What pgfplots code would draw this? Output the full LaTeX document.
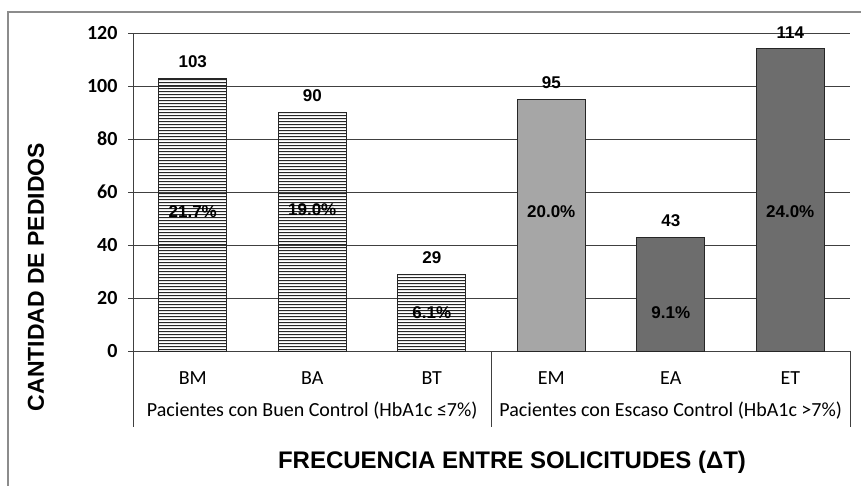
\documentclass[border=0pt]{standalone}
\usepackage{fontspec}
\setmainfont{Carlito}
\newfontfamily\arialfont{Liberation Sans}
\usepackage{pgfplots}
\pgfplotsset{compat=1.18}
\usetikzlibrary{patterns.meta}
\tikzdeclarepattern{name=hl, type=uncolored,
  bottom left={(0pt,0pt)}, top right={(400pt,3.3pt)}, tile size={(400pt,3.3pt)},
  code={\draw[line width=1.1pt] (-1pt,1.65pt) -- (401pt,1.65pt);}}
\definecolor{lgray}{HTML}{A6A6A6}
\definecolor{dgray}{HTML}{6D6D6D}
\begin{document}
\begin{tikzpicture}
\begin{axis}[
  at={(133pt,-351pt)}, anchor=south west, scale only axis,
  width=717pt, height=318pt,
  xmin=-0.5, xmax=5.5, ymin=0, ymax=120,
  ytick={0,20,...,120},
  xtick={0,...,5}, xticklabels={BM,BA,BT,EM,EA,ET},
  xtick style={draw=none},
  axis y line*=left, axis x line*=bottom,
  axis line style={-, black!75, line width=0.8pt},
  ymajorgrids, grid style={black!75, line width=0.8pt},
  ytick style={black!75, line width=0.8pt},
  tick align=outside, major tick length=5pt,
  yticklabel style={font=\bfseries\fontsize{20}{20}\selectfont, xshift=-7pt},
  xticklabel style={font=\fontsize{20}{20}\selectfont, yshift=-12pt},
  /pgf/number format/assume math mode=true,
  clip=false,
  bar width=0.57,
  valstyle/.style={nodes near coords, nodes near coords style={font=\arialfont\bfseries\fontsize{17}{17}\selectfont, anchor=south, yshift=7pt}},
]
\addplot[ybar, bar shift=0pt, draw=black!85, line width=1pt, pattern={hl}, pattern color=black!85, valstyle]
  coordinates {(0,103) (1,90) (2,29)};
\addplot[ybar, bar shift=0pt, draw=black!85, line width=1pt, fill=lgray, valstyle]
  coordinates {(3,95)};
\addplot[ybar, bar shift=0pt, draw=black!85, line width=1pt, fill=dgray, valstyle]
  coordinates {(4,43) (5,114)};
\addplot[draw=none, mark=none, point meta=explicit symbolic, nodes near coords,
  nodes near coords style={anchor=center, font=\arialfont\bfseries\fontsize{17}{17}\selectfont}]
  coordinates {(0,52.5) [21.7\%] (1,53.5) [19.0\%] (2,14.5) [6.1\%] (3,52.5) [20.0\%] (4,14.3) [9.1\%] (5,52.5) [24.0\%]};
\draw[black!75, line width=0.8pt] (axis cs:-0.5,0) -- (axis cs:-0.5,-28.7);
\draw[black!75, line width=0.8pt] (axis cs:2.5,0) -- (axis cs:2.5,-28.7);
\draw[black!75, line width=0.8pt] (axis cs:5.5,0) -- (axis cs:5.5,-28.7);
\node[font=\fontsize{20}{20}\selectfont] at (axis cs:1,-22.6) {Pacientes con Buen Control (HbA1c ≤7\%)};
\node[font=\fontsize{20}{20}\selectfont] at (axis cs:4,-22.6) {Pacientes con Escaso Control (HbA1c >7\%)};
\end{axis}
\node[rotate=90, font=\arialfont\bfseries\fontsize{23}{23}\selectfont] at (36pt,-277pt) {CANTIDAD DE PEDIDOS};
\node[font=\arialfont\bfseries\fontsize{24}{24}\selectfont] at (512pt,-462pt) {FRECUENCIA ENTRE SOLICITUDES (ΔT)};
\draw[black!45, line width=1.5pt] (8pt,-520pt) |- (900pt,-12pt);
\pgfresetboundingbox
\useasboundingbox (0,0) rectangle (861pt,-486pt);
\end{tikzpicture}
\end{document}
